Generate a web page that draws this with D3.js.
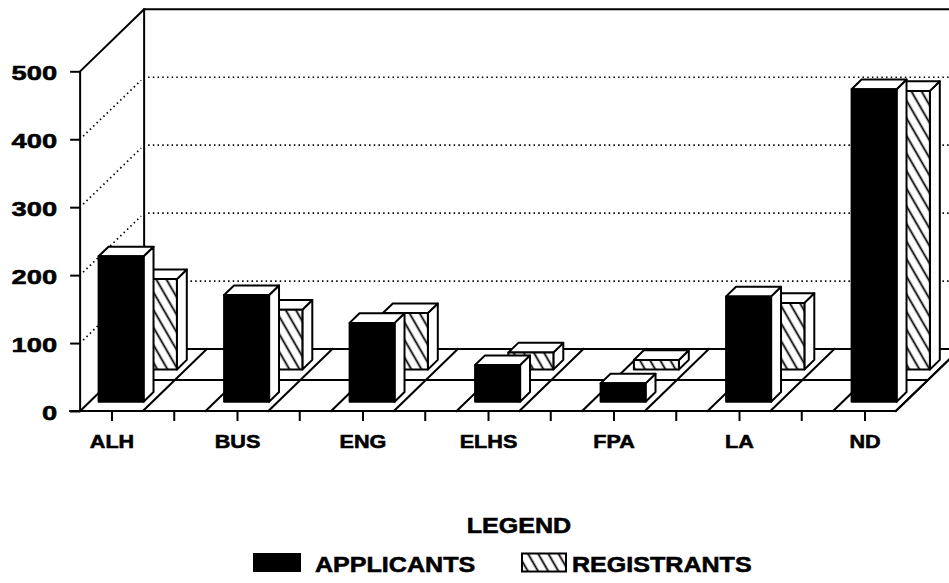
<!DOCTYPE html>
<html>
<head>
<meta charset="utf-8">
<script src="https://cdn.jsdelivr.net/npm/d3@7"></script>
<style>
  html, body { margin: 0; padding: 0; background: #fff; }
  svg { display: block; }
</style>
</head>
<body>
<svg id="chart" width="949" height="583"></svg>
<script>
// Enrolment by division: applicants vs registrants
const categories   = ["ALH", "BUS", "ENG", "ELHS", "FPA", "LA", "ND"];
const applicants   = [214, 157, 116, 54, 27, 155, 460];
const registrants  = [133, 88, 83, 25, 14, 98, 410];
const yTickValues  = [0, 100, 200, 300, 400, 500];
const gridValues   = [100, 200, 300, 400];
const seriesNames  = ["APPLICANTS", "REGISTRANTS"];
const legendTitle  = "LEGEND";

const FONT = "'Liberation Sans', Arial, Helvetica, sans-serif";
const DX = 64, DY = 62;           // oblique offset from front plane to back wall
const LW = 2;                     // outline weight
const TXT_STROKE = 0.55;          // extra weight on the heavy lettering

const svg = d3.select("#chart");

const y = d3.scaleLinear().domain([0, 500]).range([411, 71.3]);
const x = d3.scalePoint().domain(categories).range([111.5, 864.5]);
const cell = x.step() / 2;
const floorL = x(categories[0]) - cell / 2;
const floorR = x(categories[categories.length - 1]) + cell / 2;
const proj = (px, v, z) => [px + DX * z, y(v) - DY * z];
const line = d3.line();

// hatch used on registrant faces
const defs = svg.append("defs");
const pat = defs.append("pattern")
  .attr("id", "hatch")
  .attr("patternUnits", "userSpaceOnUse")
  .attr("width", 8.8).attr("height", 20)
  .attr("patternTransform", "rotate(-30)");
pat.append("rect").attr("width", 8.8).attr("height", 20).attr("fill", "#fff");
pat.append("line")
  .attr("x1", 4.4).attr("y1", -2).attr("x2", 4.4).attr("y2", 22)
  .attr("stroke", "#000").attr("stroke-width", 1.8);

// ---- walls and floor ----
const frame = svg.append("g").attr("fill", "none").attr("stroke", "#000")
  .attr("stroke-width", LW).attr("stroke-linecap", "square");

const backL = floorL + DX;
const topBack = y(500) - DY;
const floorBack = y(0) - DY;

// dotted grid on back wall and left wall
const grid = svg.append("g").attr("stroke", "#000").attr("stroke-width", 1.7)
  .attr("stroke-dasharray", "1.5,3.2").attr("fill", "none");
gridValues.forEach(v => {
  grid.append("path").attr("d", line([[backL + 4, y(v) - DY], [960, y(v) - DY]]));
  grid.append("path").attr("d", line([[floorL + 3, y(v) - 3], [backL - 3, y(v) - DY + 3]]));
});

frame.append("path").attr("d", line([[floorL, y(0)], [floorL, y(500)], [backL, topBack], [960, topBack]]));
frame.append("path").attr("d", line([[backL, floorBack], [backL, topBack]]));
frame.append("path").attr("d", line([[floorL - 10, y(0)], [floorR, y(0)], [floorR + DX, floorBack]]));
frame.append("path").attr("d", line([[backL, floorBack], [floorR + DX, floorBack]]));
frame.append("path").attr("d", line([proj(floorL, 0, 0.5), proj(floorR, 0, 0.5)]));
d3.range(0, 14).forEach(k => {
  const fx = floorL + k * cell;
  frame.append("path").attr("d", line([proj(fx, 0, 0), proj(fx, 0, 1)]));
});

// ---- bars ----
const barW = 45;
function drawBar(g, cx, v, z0, z1, frontFill) {
  const xl = cx - barW / 2, xr = cx + barW / 2;
  const front = [proj(xl, 0, z0), proj(xl, v, z0), proj(xr, v, z0), proj(xr, 0, z0)];
  const top = [proj(xl, v, z0), proj(xr, v, z0), proj(xr, v, z1), proj(xl, v, z1)];
  const side = [proj(xr, 0, z0), proj(xr, v, z0), proj(xr, v, z1), proj(xr, 0, z1)];
  const st = s => s.attr("stroke", "#000").attr("stroke-width", LW).attr("stroke-linejoin", "round");
  st(g.append("path").attr("d", line(side) + "Z").attr("fill", "#fff"));
  st(g.append("path").attr("d", line(top) + "Z").attr("fill", "#fff"));
  st(g.append("path").attr("d", line(front) + "Z").attr("fill", frontFill));
}

const regG = svg.append("g").attr("class", "registrants");
categories.forEach((c, i) => drawBar(regG, x(c), registrants[i], 0.67, 0.825, "url(#hatch)"));
const appG = svg.append("g").attr("class", "applicants");
categories.forEach((c, i) => drawBar(appG, x(c), applicants[i], 0.15, 0.305, "#000"));

// ---- axes ----
const yAxisG = svg.append("g").attr("transform", `translate(${floorL},0)`)
  .call(d3.axisLeft(y).tickValues(yTickValues).tickSize(10).tickFormat(d3.format("d")));
yAxisG.select(".domain").remove();
yAxisG.selectAll(".tick line").attr("stroke", "#000").attr("stroke-width", LW);
yAxisG.selectAll(".tick text")
  .attr("font-family", FONT).attr("font-weight", "bold").attr("font-size", 21)
  .attr("fill", "#000").attr("stroke", "#000").attr("stroke-width", TXT_STROKE)
  .attr("text-anchor", "end")
  .attr("x", -23 / 1.3).attr("dy", null).attr("y", 8.5)
  .attr("transform", "scale(1.3,1)");

const xAxisG = svg.append("g").attr("transform", `translate(0,${y(0)})`)
  .call(d3.axisBottom(x).tickSize(10));
xAxisG.select(".domain").remove();
xAxisG.selectAll(".tick line").attr("stroke", "#000").attr("stroke-width", LW);
xAxisG.selectAll(".tick text")
  .attr("font-family", FONT).attr("font-weight", "bold").attr("font-size", 18)
  .attr("fill", "#000").attr("stroke", "#000").attr("stroke-width", TXT_STROKE)
  .attr("dy", null).attr("y", 37)
  .attr("transform", "scale(1.2,1)");
// intermediate ticks between categories
categories.slice(0, -1).forEach(c => {
  xAxisG.append("line")
    .attr("x1", x(c) + cell).attr("x2", x(c) + cell)
    .attr("y1", 0).attr("y2", 10)
    .attr("stroke", "#000").attr("stroke-width", LW);
});

// ---- legend ----
const legend = svg.append("g").attr("font-family", FONT).attr("font-weight", "bold")
  .attr("font-size", 22).attr("fill", "#000");
legend.append("text").attr("text-anchor", "middle")
  .attr("stroke", "#000").attr("stroke-width", TXT_STROKE)
  .attr("transform", "translate(519,533) scale(1.14,1)").text(legendTitle);
legend.append("rect").attr("x", 253).attr("y", 553).attr("width", 48).attr("height", 19)
  .attr("fill", "#000");
legend.append("text").attr("stroke", "#000").attr("stroke-width", TXT_STROKE)
  .attr("transform", "translate(315,572) scale(1.14,1)").text(seriesNames[0]);
legend.append("rect").attr("x", 522).attr("y", 553.5).attr("width", 44).attr("height", 18)
  .attr("fill", "url(#hatch)").attr("stroke", "#000").attr("stroke-width", LW);
legend.append("text").attr("stroke", "#000").attr("stroke-width", TXT_STROKE)
  .attr("transform", "translate(572,572) scale(1.14,1)").text(seriesNames[1]);
</script>
</body>
</html>
